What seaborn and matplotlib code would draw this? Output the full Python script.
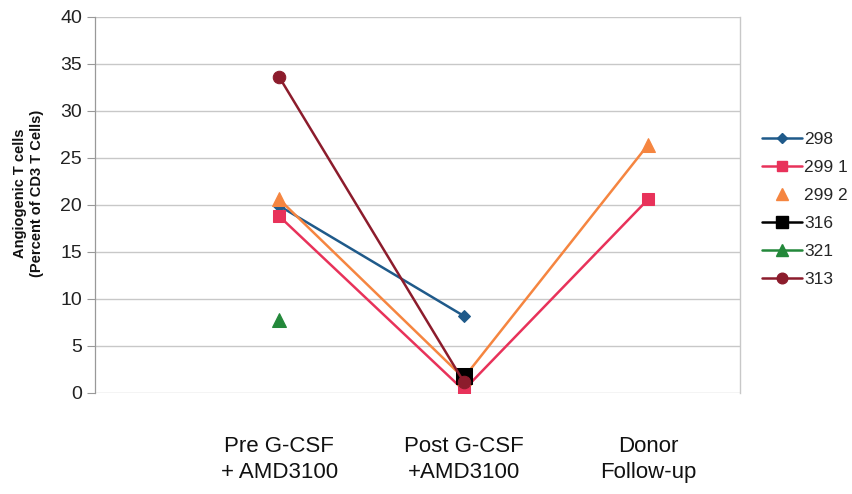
import numpy as np
import pandas as pd
import matplotlib
matplotlib.use("Agg")
import matplotlib.pyplot as plt
from matplotlib.lines import Line2D
import seaborn as sns

# Time points and per-donor measurements (percent of CD3 T cells)
categories = ["Pre G-CSF\n+ AMD3100", "Post G-CSF\n+AMD3100", "Donor\nFollow-up"]
donors = ["298", "299 1", "299 2", "316", "321", "313"]
v298 = [19.9, 8.2, np.nan]
v299_1 = [18.8, 0.3, 20.6]
v299_2 = [20.6, 1.6, 26.4]
v316 = [np.nan, 1.8, np.nan]
v321 = [7.8, np.nan, np.nan]
v313 = [33.6, 1.2, np.nan]
y_ticks = [0, 5, 10, 15, 20, 25, 30, 35, 40]

values = [v298, v299_1, v299_2, v316, v321, v313]
colors = ["#1f5a8a", "#e8325a", "#f58540", "#000000", "#23883a", "#8c1c2c"]
markers = ["D", "s", "^", "s", "^", "o"]
msizes = [6.5, 8.5, 10, 11, 10, 9]

sns.set_theme(style="white")
plt.rcParams["font.family"] = ["Liberation Sans", "DejaVu Sans"]

fig = plt.figure(figsize=(8.53, 4.94), dpi=100)
ax = fig.add_axes([0.111, 0.2045, 0.757, 0.7615])

pos = np.arange(len(categories))
for name, vals, c, m, ms in zip(donors, values, colors, markers, msizes):
    df = pd.DataFrame({"x": pos, "y": vals}).dropna()
    sns.lineplot(data=df, x="x", y="y", ax=ax, color=c, marker=m,
                 markersize=ms, markeredgecolor=c, linewidth=1.8,
                 label=name, legend=False)

ax.set_xlim(-1, 2.5)
ax.set_ylim(0, 40)
ax.set_yticks(y_ticks)
ax.set_yticklabels([str(t) for t in y_ticks], fontsize=14, color="#222222")
ax.set_xticks(pos)
ax.set_xticklabels(categories, fontsize=16, color="#111111", linespacing=1.3)
ax.tick_params(axis="x", length=0, pad=31)
ax.tick_params(axis="y", length=6, width=0.8, color="#999999", direction="out",
               left=True, pad=3)
ax.set_xlabel("")
ax.set_ylabel("Angiogenic T cells\n(Percent of CD3 T Cells)", fontsize=10.5,
              fontweight="bold", color="#111111", linespacing=1.2)
ax.yaxis.set_label_coords(-0.079, 0.53)
ax.yaxis.grid(True, color="#c8c8c8", linewidth=1.0)
ax.set_axisbelow(True)
for side in ["top", "bottom"]:
    ax.spines[side].set_visible(False)
ax.spines["left"].set_color("#999999")
ax.spines["left"].set_linewidth(0.9)
ax.spines["right"].set_color("#c8c8c8")
ax.spines["right"].set_linewidth(1.0)

handles = []
for name, c, m, ms in zip(donors, colors, markers, msizes):
    ls = "none" if name == "299 2" else "-"
    handles.append(Line2D([0], [0], color=c, marker=m, markersize=ms * 0.85,
                          markeredgecolor=c, linestyle=ls, linewidth=1.8))
leg = fig.legend(handles, donors, loc="upper left",
                 bbox_to_anchor=(0.885, 0.748), frameon=False, fontsize=12.5,
                 handlelength=2.3, handletextpad=0.15, labelspacing=0.75,
                 borderaxespad=0)

fig.savefig("out.png", dpi=100)
